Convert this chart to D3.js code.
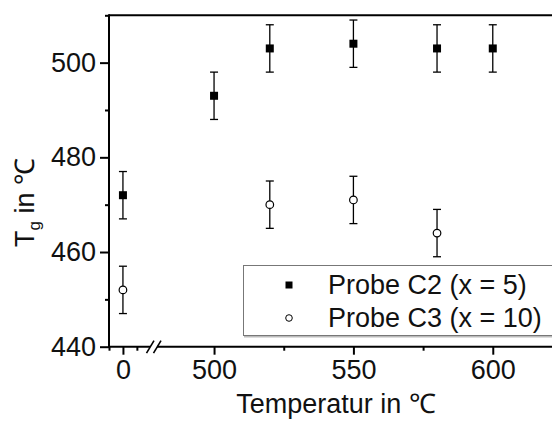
<!DOCTYPE html>
<html>
<head>
<meta charset="utf-8">
<script src="https://cdn.jsdelivr.net/npm/d3@7"></script>
<style>
  body { margin: 0; background: #fff; }
  svg { display: block; font-family: Arial, "Liberation Sans", sans-serif; }
</style>
</head>
<body>
<div class="chart"></div>
<script>
// data
var tempC2 = [0, 500, 520, 550, 580, 600];
var tgC2 = [472, 493, 503, 504, 503, 503];
var errC2 = [5, 5, 5, 5, 5, 5];
var tempC3 = [0, 520, 550, 580];
var tgC3 = [452, 470, 471, 464];
var errC3 = [5, 5, 5, 5];
var yTicks = [440, 460, 480, 500];
var yMinor = [450, 470, 490, 510];
var xTicksLeft = [0];
var xMinorLeft = [-5, 5];
var xTicksRight = [500, 550, 600];
var xMinorRight = [525, 575];
var legendNames = ['Probe C2 (x = 5)', 'Probe C3 (x = 10)'];

var width = 552, height = 421;
var plotTop = 15.3, plotBottom = 346.7, plotLeft = 109;
var fontSize = 27;

var svg = d3.select('.chart').append('svg')
  .attr('width', width)
  .attr('height', height);

// scales: broken x axis, two pieces with the same px per unit
var y = d3.scaleLinear().domain([440, 510]).range([plotBottom, plotTop]);
var xL = d3.scaleLinear().domain([-5, 11]).range([plotLeft, 153.6]);
var xR = d3.scaleLinear().domain([480.5, 621.5]).range([159.7, 552.7]);
function xPos(t) { return t < 100 ? xL(t) : xR(t); }

// y axis ticks
svg.append('g')
  .attr('transform', 'translate(' + plotLeft + ',0)')
  .call(d3.axisLeft(y).tickValues(yTicks).tickSize(9).tickPadding(4).tickFormat(d3.format('d')))
  .call(g => g.select('.domain').remove())
  .call(g => g.selectAll('line').attr('stroke-width', 2))
  .call(g => g.selectAll('text').attr('font-size', fontSize).attr('fill', '#111'));
svg.append('g')
  .attr('transform', 'translate(' + plotLeft + ',0)')
  .call(d3.axisLeft(y).tickValues(yMinor).tickSize(4).tickFormat(''))
  .call(g => g.select('.domain').remove())
  .call(g => g.selectAll('line').attr('stroke-width', 2));

// x axis ticks, both pieces
function xTicks(scale, major, minor) {
  svg.append('g')
    .attr('transform', 'translate(0,' + plotBottom + ')')
    .call(d3.axisBottom(scale).tickValues(major).tickSize(8).tickPadding(5).tickFormat(d3.format('d')))
    .call(g => g.select('.domain').remove())
    .call(g => g.selectAll('line').attr('stroke-width', 2))
    .call(g => g.selectAll('text').attr('font-size', fontSize).attr('fill', '#111'));
  svg.append('g')
    .attr('transform', 'translate(0,' + plotBottom + ')')
    .call(d3.axisBottom(scale).tickValues(minor).tickSize(4).tickFormat(''))
    .call(g => g.select('.domain').remove())
    .call(g => g.selectAll('line').attr('stroke-width', 2));
}
xTicks(xL, xTicksLeft, xMinorLeft);
xTicks(xR, xTicksRight, xMinorRight);

// frame lines
var frame = svg.append('g').attr('stroke', '#000').attr('stroke-width', 2).attr('fill', 'none');
frame.append('line').attr('x1', plotLeft).attr('x2', plotLeft).attr('y1', plotTop - 1).attr('y2', plotBottom + 1);
frame.append('line').attr('x1', plotLeft).attr('x2', width).attr('y1', plotTop).attr('y2', plotTop);
frame.append('line').attr('x1', plotLeft - 1).attr('x2', 150).attr('y1', plotBottom).attr('y2', plotBottom);
frame.append('line').attr('x1', 157).attr('x2', width).attr('y1', plotBottom).attr('y2', plotBottom);
// break marks //
frame.append('line').attr('x1', 146.5).attr('y1', plotBottom + 6.5).attr('x2', 154).attr('y2', plotBottom - 6).attr('stroke-width', 1.6);
frame.append('line').attr('x1', 153.5).attr('y1', plotBottom + 6.5).attr('x2', 161).attr('y2', plotBottom - 6).attr('stroke-width', 1.6);

// error bars
function errorBars(temps, vals, errs) {
  var g = svg.append('g').attr('stroke', '#000').attr('stroke-width', 1.3);
  temps.forEach(function (t, i) {
    var cx = xPos(t);
    var y1 = y(vals[i] + errs[i]), y2 = y(vals[i] - errs[i]);
    g.append('line').attr('x1', cx).attr('x2', cx).attr('y1', y1).attr('y2', y2);
    g.append('line').attr('x1', cx - 4).attr('x2', cx + 4).attr('y1', y1).attr('y2', y1);
    g.append('line').attr('x1', cx - 4).attr('x2', cx + 4).attr('y1', y2).attr('y2', y2);
  });
}
errorBars(tempC2, tgC2, errC2);
errorBars(tempC3, tgC3, errC3);

// points
svg.append('g')
  .selectAll('rect')
  .data(tempC2)
  .enter()
  .append('rect')
  .attr('x', d => xPos(d) - 4)
  .attr('y', (d, i) => y(tgC2[i]) - 4)
  .attr('width', 8)
  .attr('height', 8)
  .attr('fill', '#000');

svg.append('g')
  .selectAll('circle')
  .data(tempC3)
  .enter()
  .append('circle')
  .attr('cx', d => xPos(d))
  .attr('cy', (d, i) => y(tgC3[i]))
  .attr('r', 3.8)
  .attr('fill', '#fff')
  .attr('stroke', '#000')
  .attr('stroke-width', 1.2);

// legend
var lg = svg.append('g').attr('transform', 'translate(243,265)');
lg.append('line').attr('x1', 1).attr('x2', 320).attr('y1', 71.5).attr('y2', 71.5)
  .attr('stroke', '#bbb').attr('stroke-width', 2);
lg.append('rect').attr('x', 0.5).attr('y', 0.5).attr('width', 320).attr('height', 70)
  .attr('fill', '#fff').attr('stroke', '#777').attr('stroke-width', 1);
lg.append('rect').attr('x', 46 - 3.5).attr('y', 20 - 3.5).attr('width', 7).attr('height', 7).attr('fill', '#000');
lg.append('circle').attr('cx', 46).attr('cy', 53).attr('r', 3.3)
  .attr('fill', '#fff').attr('stroke', '#000').attr('stroke-width', 1);
lg.selectAll('text.leg')
  .data(legendNames)
  .enter()
  .append('text')
  .attr('class', 'leg')
  .attr('x', 85)
  .attr('y', (d, i) => 29 + i * 33)
  .attr('font-size', fontSize)
  .attr('fill', '#111')
  .text(d => d);

// axis titles
svg.append('text')
  .attr('x', 336)
  .attr('y', 413)
  .attr('text-anchor', 'middle')
  .attr('font-size', fontSize)
  .attr('fill', '#111')
  .text('Temperatur in ℃');

var yt = svg.append('text')
  .attr('transform', 'translate(34,247) rotate(-90)')
  .attr('font-size', fontSize)
  .attr('fill', '#111');
yt.append('tspan').text('T');
yt.append('tspan').attr('font-size', 17).attr('dy', 6).text('g');
yt.append('tspan').attr('dy', -6).text(' in ℃');
</script>
</body>
</html>
